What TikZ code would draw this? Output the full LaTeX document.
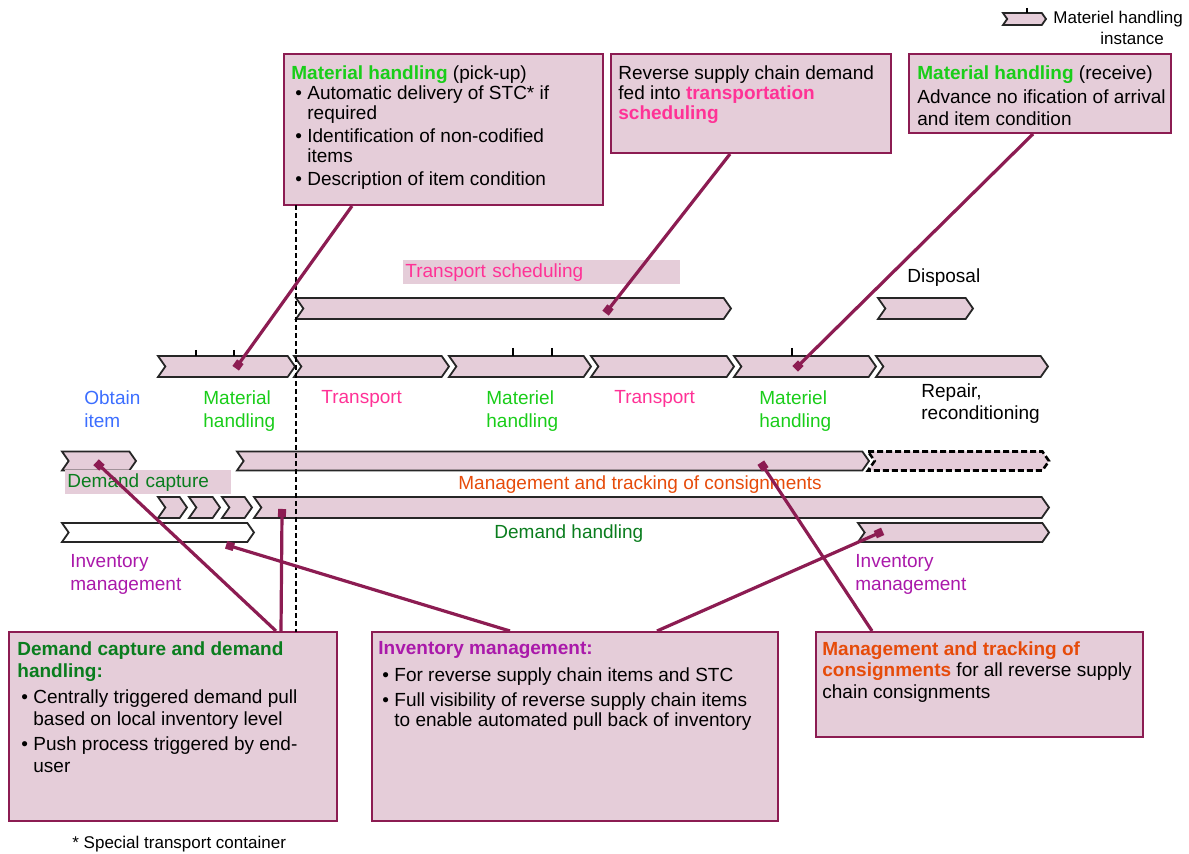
\documentclass[tikz,border=0pt]{standalone}
\usepackage{fontspec}
\setmainfont{Liberation Sans}
\usetikzlibrary{arrows.meta,fit}
\definecolor{boxfill}{RGB}{229,205,217}
\definecolor{callline}{RGB}{140,28,82}
\definecolor{mhgreen}{RGB}{25,205,25}
\definecolor{dcgreen}{RGB}{10,125,30}
\definecolor{tpink}{RGB}{255,50,150}
\definecolor{mtorange}{RGB}{230,75,10}
\definecolor{invpurple}{RGB}{170,25,170}
\definecolor{obblue}{RGB}{60,110,255}
\newcommand{\chev}[5][]{\draw[chev,#1] (#2,#4-#5) -- (#3-0.7*#5,#4-#5) -- (#3,#4) -- (#3-0.7*#5,#4+#5) -- (#2,#4+#5) -- (#2+0.7*#5,#4) -- cycle;}
\newcommand{\bul}{\hspace*{2pt}\makebox[6pt][l]{\textbullet}}
\newcommand{\ind}{\hspace*{8pt}}

\begin{document}
\begin{tikzpicture}[x=0.5pt,y=-0.5pt,chev/.style={draw=black!85,line width=0.9pt,fill=boxfill},dashchev/.style={draw=black,dash pattern=on 3pt off 1.5pt,line width=1.3pt},tick/.style={draw=black,line width=0.8pt},callout/.style={draw=callline,line width=1pt,fill=boxfill,inner sep=0pt},boxtxt/.style={anchor=north west,inner sep=0pt,align=left,font=\fontsize{9.5}{10}\selectfont},lbl/.style={anchor=north west,inner sep=0pt,align=left},hilite/.style={fill=boxfill,anchor=north west,inner xsep=1pt,inner ysep=0pt,minimum height=12pt,text width=#1,align=left},link/.style={draw=callline,line width=1.6pt,-{Square[length=4pt,width=4pt]},shorten >=-2pt},divider/.style={draw=black,line width=1.2pt,dash pattern=on 2.5pt off 1.5pt},every node/.style={font=\fontsize{9.5}{11.5}\selectfont}]
\useasboundingbox (0,0) rectangle (1189,854);
% legend
\chev{1003}{1046}{19}{6}
\draw[tick] (1027,8) -- (1027,13);
\node[lbl,font=\fontsize{8.5}{10.5}\selectfont] (legend) at (1053,11) {Materiel handling\\\hspace*{23.5pt}instance};
% process chevrons
\chev{296}{731}{308.5}{10.5}
\chev{878}{973}{308.5}{10.5}
\chev{158}{295}{366.5}{10.5}
\chev{294}{449}{366.5}{10.5}
\chev{449}{591}{366.5}{10.5}
\chev{591}{734}{366.5}{10.5}
\chev{734}{876}{366.5}{10.5}
\chev{876}{1048}{366.5}{10.5}
\draw[tick] (196,350) -- (196,356);
\draw[tick] (234,350) -- (234,356);
\draw[tick] (513,348) -- (513,356);
\draw[tick] (552,348) -- (552,356);
\draw[tick] (792,348) -- (792,356);
\chev{62}{136}{461}{9.5}
\chev{237}{869}{461}{9.5}
\chev[dashchev]{868}{1049}{461}{9.5}
\chev{158}{187}{507.5}{10.5}
\chev{189}{220}{507.5}{10.5}
\chev{222}{252}{507.5}{10.5}
\chev{254}{1049}{507.5}{10.5}
\chev[fill=white]{62}{254}{532.5}{9.5}
\chev{858}{1049}{532.5}{9.5}
% labels
\node[hilite=136.5pt,text=tpink] (ltsched) at (403,260) {Transport scheduling};
\node[lbl] (ldisposal) at (907,268) {Disposal};
\node[lbl,text=obblue] (lobtain) at (84,390) {Obtain\\item};
\node[lbl,text=mhgreen] (lmh1) at (203,390) {Material\\handling};
\node[lbl,text=tpink] (ltr1) at (321,390) {Transport};
\node[lbl,text=mhgreen] (lmh2) at (486,390) {Materiel\\handling};
\node[lbl,text=tpink] (ltr2) at (614,390) {Transport};
\node[lbl,text=mhgreen] (lmh3) at (759,390) {Materiel\\handling};
\node[lbl,font=\fontsize{9.5}{11}\selectfont] (lrepair) at (921,383) {Repair,\\reconditioning};
\node[hilite=81pt,text=dcgreen] (ldemcap) at (65,470) {Demand capture};
\node[lbl,text=mtorange] (lmgmt) at (458,475) {Management and tracking of consignments};
\node[lbl,text=dcgreen] (ldemand) at (494,524) {Demand handling};
\node[lbl,text=invpurple] (linv1) at (70,554) {Inventory\\management};
\node[lbl,text=invpurple] (linv2) at (855,554) {Inventory\\management};
% callout boxes, top
\node[callout,fit={(284,54) (603,205)}] (pickup) {};
\node[boxtxt] (pickuptxt) at (291,65) {\textcolor{mhgreen}{\bfseries Material handling} (pick-up)\\
\bul Automatic delivery of STC* if\\
\ind required\\[1.5pt]
\bul Identification of non-codified\\
\ind items\\[1.5pt]
\bul Description of item condition};
\node[callout,fit={(611,54) (891,153)}] (revdem) {};
\node[boxtxt] (revdemtxt) at (618,65) {Reverse supply chain demand\\fed into \textcolor{tpink}{\bfseries transportation}\\\textcolor{tpink}{\bfseries scheduling}};
\node[callout,fit={(909,54) (1171,133)}] (receive) {};
\node[boxtxt,font=\fontsize{9.5}{11}\selectfont] (receivetxt) at (917,65) {\textcolor{mhgreen}{\bfseries Material handling} (receive)\\[1pt]
Advance no ification of arrival\\and item condition};
% callout boxes, bottom
\node[callout,fit={(9,632) (337,821)}] (demcap) {};
\node[boxtxt,font=\fontsize{9.5}{11.25}\selectfont] (demcaptxt) at (17,641) {\textcolor{dcgreen}{\bfseries Demand capture and demand}\\
\textcolor{dcgreen}{\bfseries handling:}\\[1.5pt]
\bul Centrally triggered demand pull\\
\ind based on local inventory level\\[1pt]
\bul Push process triggered by end-\\
\ind user};
\node[callout,fit={(372,632) (778,821)}] (invmgmt) {};
\node[boxtxt] (invmgmttxt) at (378,641) {\textcolor{invpurple}{\bfseries Inventory management:}\\[3.5pt]
\bul For reverse supply chain items and STC\\[2.5pt]
\bul Full visibility of reverse supply chain items\\
\ind to enable automated pull back of inventory};
\node[callout,fit={(816,632) (1143,737)}] (tracking) {};
\node[boxtxt,font=\fontsize{9.5}{10.75}\selectfont] (trackingtxt) at (822,641) {\textcolor{mtorange}{\bfseries Management and tracking of}\\
\textcolor{mtorange}{\bfseries consignments} for all reverse supply\\chain consignments};
\node[lbl,font=\fontsize{8.5}{10}\selectfont] (footnote) at (72,836) {* Special transport container};
% divider
\draw[divider] (296,205) -- (296,632);
% callout links
\coordinate (mpick) at (238,365);
\coordinate (mrev) at (608,310);
\coordinate (mrec) at (798,366);
\coordinate (mobtain) at (99,465);
\coordinate (mdemand) at (282,513);
\coordinate (minvl) at (230,546);
\coordinate (minvr) at (879,533);
\coordinate (mmgmt) at (763,466);
\draw[link] (352,0 |- pickup.south) -- (mpick);
\draw[link] (730,0 |- revdem.south) -- (mrev);
\draw[link] (1033,0 |- receive.south) -- (mrec);
\draw[link] (276,0 |- demcap.north) -- (mobtain);
\draw[link] (281,0 |- demcap.north) -- (mdemand);
\draw[link] (510,0 |- invmgmt.north) -- (minvl);
\draw[link] (657,0 |- invmgmt.north) -- (minvr);
\draw[link] (872,0 |- tracking.north) -- (mmgmt);
\end{tikzpicture}
\end{document}
